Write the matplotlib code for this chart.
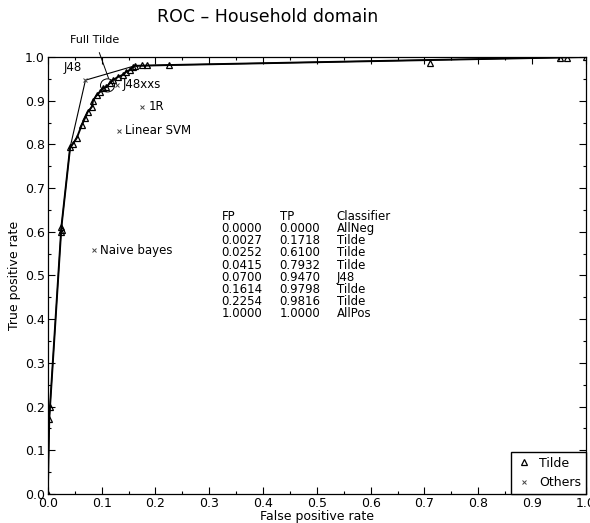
import matplotlib
matplotlib.use("Agg")
import matplotlib.pyplot as plt
from matplotlib.patches import Ellipse
from matplotlib.ticker import MultipleLocator

# Tilde ROC points
tilde_fp = [0.0, 0.0027, 0.005, 0.0252, 0.025, 0.026, 0.0415, 0.046, 0.054, 0.063,
            0.069, 0.074, 0.082, 0.084, 0.091, 0.097, 0.103, 0.109, 0.115, 0.121,
            0.130, 0.139, 0.146, 0.152, 0.158, 0.1614, 0.175, 0.184, 0.2254,
            0.71, 0.952, 0.965, 1.0]
tilde_tp = [0.0, 0.1718, 0.20, 0.61, 0.60, 0.605, 0.7932, 0.80, 0.815, 0.844,
            0.86, 0.874, 0.886, 0.90, 0.913, 0.92, 0.929, 0.931, 0.94, 0.947,
            0.954, 0.959, 0.966, 0.970, 0.977, 0.9798, 0.982, 0.982, 0.9816,
            0.986, 0.997, 0.997, 1.0]

# thick Tilde curve (skips the points lying under it on the right)
curve_fp = [0.0, 0.0027, 0.0252, 0.0415, 0.046, 0.054, 0.063, 0.069, 0.074, 0.082,
            0.084, 0.091, 0.097, 0.103, 0.109, 0.115, 0.121, 0.130, 0.139, 0.146,
            0.152, 0.158, 0.1614, 0.2254, 1.0]
curve_tp = [0.0, 0.1718, 0.61, 0.7932, 0.80, 0.815, 0.844, 0.86, 0.874, 0.886,
            0.90, 0.913, 0.92, 0.929, 0.931, 0.94, 0.947, 0.954, 0.959, 0.966,
            0.970, 0.977, 0.9798, 0.9816, 1.0]

# overall convex hull (includes J48)
hull_fp = [0.0, 0.0027, 0.0252, 0.0415, 0.0700, 0.1614, 0.2254, 1.0]
hull_tp = [0.0, 0.1718, 0.6100, 0.7932, 0.9470, 0.9798, 0.9816, 1.0]

# other classifiers
other_names = ["J48", "J48xxs", "1R", "Linear SVM", "Naive bayes"]
other_fp = [0.070, 0.128, 0.175, 0.132, 0.0855]
other_tp = [0.947, 0.936, 0.886, 0.831, 0.558]

table_fp = ["0.0000", "0.0027", "0.0252", "0.0415", "0.0700", "0.1614", "0.2254", "1.0000"]
table_tp = ["0.0000", "0.1718", "0.6100", "0.7932", "0.9470", "0.9798", "0.9816", "1.0000"]
table_cls = ["AllNeg", "Tilde", "Tilde", "Tilde", "J48", "Tilde", "Tilde", "AllPos"]

fig = plt.figure(figsize=(5.9, 5.23), dpi=100)
ax = fig.add_axes([0.081, 0.0555, 0.912, 0.8355])

ax.plot(curve_fp, curve_tp, color="black", lw=1.4, zorder=2)
ax.plot(hull_fp, hull_tp, color="black", lw=0.8, zorder=2)
ax.plot(tilde_fp, tilde_tp, ls="none", marker="^", ms=5, mfc="none", mec="black",
        mew=0.9, label="Tilde", zorder=3)
ax.plot(other_fp, other_tp, ls="none", marker="x", ms=3.5, color="#444444",
        mew=0.7, label="Others", zorder=3)

# classifier labels
ax.text(0.030, 0.977, "J48", fontsize=8.5, ha="left", va="center")
for name, x, y in zip(other_names[1:], other_fp[1:], other_tp[1:]):
    ax.text(x + 0.012, y, name, fontsize=8.5, ha="left", va="center")

# Full Tilde annotation
ax.add_patch(Ellipse((0.111, 0.935), 0.026, 0.030, fill=False, lw=0.7, color="black"))
ax.annotate("Full Tilde", xy=(0.113, 0.951), xytext=(0.087, 1.04),
            fontsize=8, ha="center", va="center", annotation_clip=False,
            arrowprops=dict(arrowstyle="-", lw=0.7, color="black", shrinkA=4, shrinkB=0))

# table of hull points
x_cols = [0.323, 0.431, 0.537]
y0 = 0.636
dy = 0.028
ax.text(x_cols[0], y0, "FP", fontsize=8.5, va="center")
ax.text(x_cols[1], y0, "TP", fontsize=8.5, va="center")
ax.text(x_cols[2], y0, "Classifier", fontsize=8.5, va="center")
for i, (a, b, c) in enumerate(zip(table_fp, table_tp, table_cls)):
    y = y0 - (i + 1) * dy
    ax.text(x_cols[0], y, a, fontsize=8.5, va="center")
    ax.text(x_cols[1], y, b, fontsize=8.5, va="center")
    ax.text(x_cols[2], y, c, fontsize=8.5, va="center")

ax.set_xlim(0, 1)
ax.set_ylim(0, 1)
ax.xaxis.set_major_locator(MultipleLocator(0.1))
ax.yaxis.set_major_locator(MultipleLocator(0.1))
ax.xaxis.set_minor_locator(MultipleLocator(0.05))
ax.yaxis.set_minor_locator(MultipleLocator(0.05))
ax.xaxis.set_major_formatter(plt.FormatStrFormatter("%.1f"))
ax.yaxis.set_major_formatter(plt.FormatStrFormatter("%.1f"))
ax.tick_params(which="both", direction="in", top=True, right=True, labelsize=9, width=0.8)
ax.tick_params(which="major", length=5, pad=2)
ax.tick_params(which="minor", length=2.5)
for s in ax.spines.values():
    s.set_linewidth(0.9)

ax.set_xlabel("False positive rate", fontsize=9, labelpad=0)
ax.set_ylabel("True positive rate", fontsize=9, labelpad=3)
fig.text(0.453, 0.967, "ROC \u2013 Household domain", fontsize=12.5,
         ha="center", va="center")

ax.legend(loc="lower right", borderaxespad=0, fancybox=False, edgecolor="black",
          fontsize=9, handlelength=1.2, handletextpad=0.6, framealpha=1)

fig.savefig("out.png", dpi=100)
